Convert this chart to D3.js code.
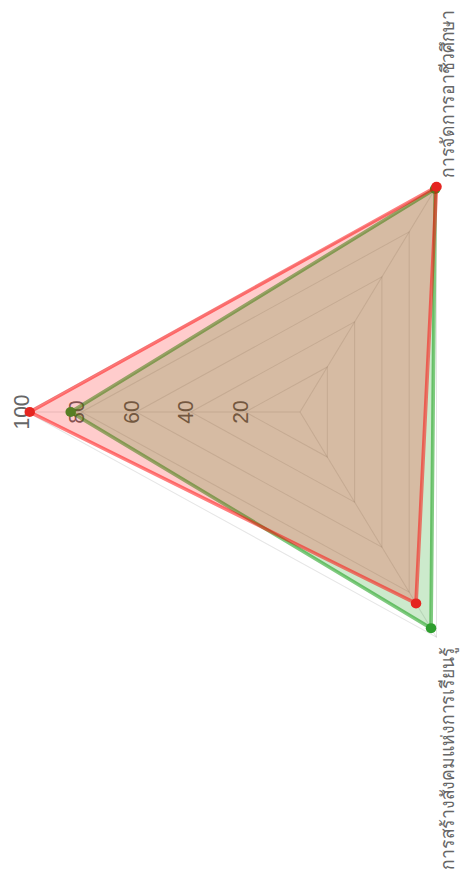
<!DOCTYPE html>
<html>
<head>
<meta charset="UTF-8">
<title>Radar</title>
<script src="https://cdnjs.cloudflare.com/ajax/libs/d3/7.8.5/d3.min.js"></script>
<style>
  body { margin: 0; background: #fff; }
  svg  { display: block; }
  .tick  { font-family: "Liberation Sans", Arial, sans-serif; font-size: 21px; fill: #666; }
  .label { font-family: "Noto Sans", "DejaVu Sans", sans-serif; font-size: 17.5px; fill: #666; }
</style>
</head>
<body>
<script>
  // axes, clockwise from the top of the (unrotated) chart
  var categories = ["", "การจัดการอาชีวศึกษา", "การสร้างสังคมแห่งการเรียนรู้"];
  var redValues = [99, 100, 85];
  var greenValues = [84, 99, 96];
  var tickValues = [20, 40, 60, 80, 100];

  var series = [
    { values: greenValues, line: "rgba(0,150,0,0.5)", fill: "rgba(0,150,0,0.2)", point: "#2e9e2e" },
    { values: redValues,   line: "rgba(255,0,0,0.5)", fill: "rgba(255,0,0,0.2)", point: "#e52520" }
  ];

  var width = 461, height = 878;
  var svg = d3.select("body").append("svg")
    .attr("width", width)
    .attr("height", height);

  var r = d3.scaleLinear().domain([0, 100]).range([0, 260]);
  var angle = d3.scaleLinear().domain([0, categories.length]).range([0, 2 * Math.PI]);

  function px(i, v) { return r(v) * Math.sin(angle(i)); }
  function py(i, v) { return -r(v) * Math.cos(angle(i)); }

  // the whole chart is turned a quarter turn to the left
  var g = svg.append("g")
    .attr("transform", "translate(300,412) scale(1.05,1) rotate(-90)");

  var radial = d3.lineRadial()
    .angle(function (d, i) { return angle(i); })
    .radius(function (d) { return r(d); })
    .curve(d3.curveLinearClosed);

  // grid polygons
  g.selectAll(".grid")
    .data(tickValues)
    .enter().append("path")
    .attr("class", "grid")
    .attr("d", function (t) { return radial(categories.map(function () { return t; })); })
    .style("fill", "none")
    .style("stroke", "rgba(0,0,0,0.1)")
    .style("stroke-width", 1);

  // angle lines
  g.selectAll(".spoke")
    .data(categories)
    .enter().append("line")
    .attr("class", "spoke")
    .attr("x1", 0).attr("y1", 0)
    .attr("x2", function (d, i) { return px(i, 100); })
    .attr("y2", function (d, i) { return py(i, 100); })
    .style("stroke", "rgba(0,0,0,0.1)")
    .style("stroke-width", 1);

  // tick labels along the first axis
  g.selectAll(".tick")
    .data(tickValues)
    .enter().append("text")
    .attr("class", "tick")
    .attr("x", 0)
    .attr("y", function (t) { return -r(t) - 4.5; })
    .attr("text-anchor", "middle")
    .attr("dominant-baseline", "central")
    .text(function (t) { return t; });

  // datasets
  series.forEach(function (s) {
    var sg = g.append("g");
    sg.append("path")
      .attr("d", radial(s.values))
      .style("fill", s.fill)
      .style("stroke", s.line)
      .style("stroke-width", 3.5)
      .style("stroke-linejoin", "round");
    sg.selectAll("circle")
      .data(s.values)
      .enter().append("circle")
      .attr("cx", function (d, i) { return px(i, d); })
      .attr("cy", function (d, i) { return py(i, d); })
      .attr("r", 5)
      .style("fill", s.point);
  });

  // point labels
  g.selectAll(".label")
    .data(categories)
    .enter().append("text")
    .attr("class", "label")
    .attr("x", function (d, i) {
      var x = px(i, 100);
      if (Math.abs(x) < 1) return x;
      return x > 0 ? x + 9 : x - 10;
    })
    .attr("y", function (d, i) { return py(i, 100) + 17; })
    .attr("text-anchor", function (d, i) {
      var x = px(i, 100);
      if (Math.abs(x) < 1) return "middle";
      return x > 0 ? "start" : "end";
    })
    .text(function (d) { return d; });
</script>
</body>
</html>
